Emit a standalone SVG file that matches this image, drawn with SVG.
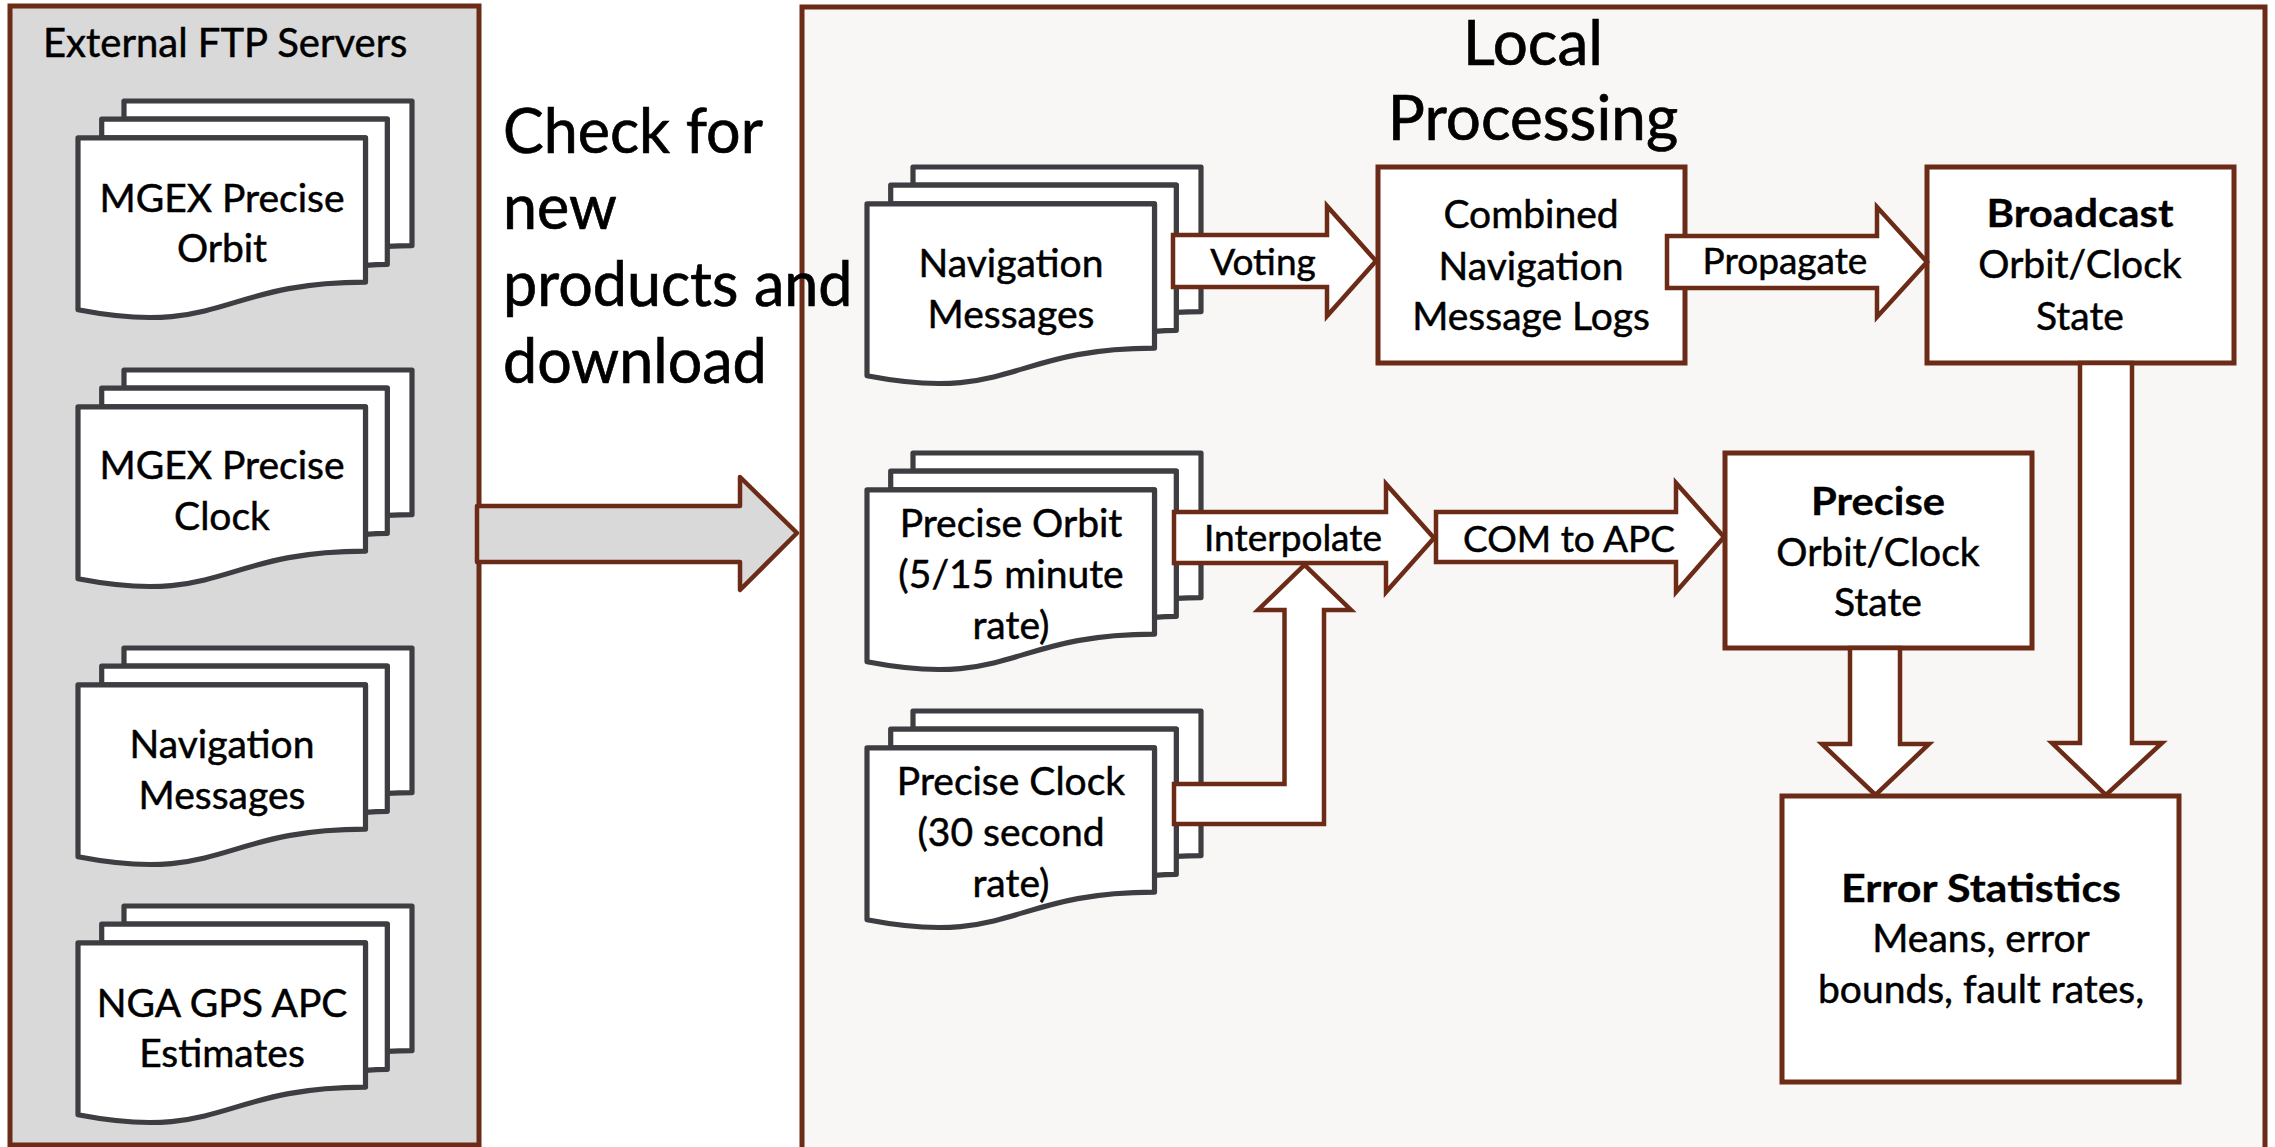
<svg xmlns="http://www.w3.org/2000/svg" xmlns:xlink="http://www.w3.org/1999/xlink" width="2275" height="1147" viewBox="0 0 2275 1147">
<style>
text{font-family:Lato,"Liberation Sans",sans-serif;fill:#000;stroke:#000;stroke-width:0.5px}
.lbl{font-size:39px;text-anchor:middle}
.alb{font-size:37px;text-anchor:middle}
.big{font-size:61px;stroke-width:0.7px}
.b{font-weight:bold;stroke-width:0.3px}
.box{fill:#fff;stroke:#6b2b17;stroke-width:5}
.arr{fill:#fff;stroke:#6b2b17;stroke-width:4.5;stroke-linejoin:miter}
</style>
<defs>
<g id="mdoc" fill="#fff" stroke="#3e3e42" stroke-width="5.2" stroke-linejoin="round">
<path d="M46,18.2 L46,0 L334,0 L334,144.6 C321.6,144.6 309.3,145.3 309.3,145.3 L309.3,18.2 Z"/>
<path d="M23.7,36.9 L23.7,18.2 L309.3,18.2 L309.3,163.3 C298.4,163.3 287.5,164.3 287.5,164.3 L287.5,36.9 Z"/>
<path d="M0,208.8 C143.8,236.5 143.8,181.1 287.5,181.1 L287.5,36.9 L0,36.9 Z"/>
</g>
</defs>
<rect width="2275" height="1147" fill="#fff"/>
<g id="external-panel">
<rect x="10" y="6" width="469" height="1139" fill="#d9d9d9" stroke="#6b2b17" stroke-width="5"/>
<text x="43" y="57" style="font-size:40px">External FTP Servers</text>
</g>
<g id="local-panel">
<rect x="802" y="7" width="1463" height="1150" fill="#f8f7f5" stroke="#6b2b17" stroke-width="5"/>
<text class="big" x="1533" y="65" text-anchor="middle" style="font-size:62px">Local</text>
<text class="big" x="1533" y="140" text-anchor="middle" style="font-size:62px">Processing</text>
</g>
<g id="check-label">
<text class="big" x="503" y="153">Check for</text>
<text class="big" x="503" y="229">new</text>
<text class="big" x="503" y="306">products and</text>
<text class="big" x="503" y="383">download</text>
</g>
<g id="doc-mgex-orbit">
<use xlink:href="#mdoc" x="78" y="101"/>
<text class="lbl" x="222" y="212">MGEX Precise</text>
<text class="lbl" x="222" y="262">Orbit</text>
</g>
<g id="doc-mgex-clock">
<use xlink:href="#mdoc" x="78" y="370"/>
<text class="lbl" x="222" y="479">MGEX Precise</text>
<text class="lbl" x="222" y="530">Clock</text>
</g>
<g id="doc-ext-nav">
<use xlink:href="#mdoc" x="78" y="648"/>
<text class="lbl" x="222" y="758">Navigation</text>
<text class="lbl" x="222" y="809">Messages</text>
</g>
<g id="doc-nga">
<use xlink:href="#mdoc" x="78" y="906"/>
<text class="lbl" x="222" y="1017">NGA GPS APC</text>
<text class="lbl" x="222" y="1067">Estimates</text>
</g>
<g id="doc-nav">
<use xlink:href="#mdoc" x="867" y="167"/>
<text class="lbl" x="1011" y="277">Navigation</text>
<text class="lbl" x="1011" y="328">Messages</text>
</g>
<g id="doc-precise-orbit">
<use xlink:href="#mdoc" x="867" y="453"/>
<text class="lbl" x="1011" y="537">Precise Orbit</text>
<text class="lbl" x="1011" y="588">(5/15 minute</text>
<text class="lbl" x="1011" y="639">rate)</text>
</g>
<g id="doc-precise-clock">
<use xlink:href="#mdoc" x="867" y="711"/>
<text class="lbl" x="1011" y="795">Precise Clock</text>
<text class="lbl" x="1011" y="846">(30 second</text>
<text class="lbl" x="1011" y="897">rate)</text>
</g>
<g id="box-combined">
<rect class="box" x="1378" y="167" width="307" height="196"/>
<text class="lbl" x="1531" y="228">Combined</text>
<text class="lbl" x="1531" y="280">Navigation</text>
<text class="lbl" x="1531" y="330">Message Logs</text>
</g>
<g id="box-broadcast">
<rect class="box" x="1927" y="167" width="307" height="196"/>
<text class="lbl b" x="2080" y="227" textLength="187" lengthAdjust="spacingAndGlyphs">Broadcast</text>
<text class="lbl" x="2080" y="278">Orbit/Clock</text>
<text class="lbl" x="2080" y="330">State</text>
</g>
<g id="box-precise">
<rect class="box" x="1725" y="453" width="307" height="195"/>
<text class="lbl b" x="1878" y="515" textLength="134" lengthAdjust="spacingAndGlyphs">Precise</text>
<text class="lbl" x="1878" y="566">Orbit/Clock</text>
<text class="lbl" x="1878" y="616">State</text>
</g>
<g id="box-error">
<rect class="box" x="1782" y="796" width="397" height="286"/>
<text class="lbl b" x="1981" y="902" textLength="280" lengthAdjust="spacingAndGlyphs">Error Statistics</text>
<text class="lbl" x="1981" y="952">Means, error</text>
<text class="lbl" x="1981" y="1003">bounds, fault rates,</text>
</g>
<g id="connectors">
<path d="M477,506 L740,506 L740,477 L797,533 L740,590 L740,562 L477,562 Z" fill="#d9d9d9" stroke="#6b2b17" stroke-width="4.5" stroke-linejoin="round"/>
<path class="arr" d="M1173,235 L1327,235 L1327,206 L1376,261 L1327,316 L1327,287 L1173,287 Z"/>
<text class="alb" x="1263" y="275">Voting</text>
<path class="arr" d="M1667,236 L1877,236 L1877,207 L1927,262 L1877,317 L1877,288 L1667,288 Z"/>
<text class="alb" x="1785" y="274">Propagate</text>
<path class="arr" d="M1174,784 L1284.5,784 L1284.5,610 L1258,610 L1304.5,565 L1351,610 L1324,610 L1324,824 L1174,824 Z"/>
<path class="arr" d="M1174,512 L1386,512 L1386,484 L1434,538 L1386,592 L1386,563 L1174,563 Z"/>
<text class="alb" x="1293" y="551">Interpolate</text>
<path class="arr" d="M1436,512 L1676,512 L1676,483 L1724,537 L1676,592 L1676,562 L1436,562 Z"/>
<text class="alb" x="1569" y="552">COM to APC</text>
<path class="arr" d="M1850,648 L1900,648 L1900,744 L1929,744 L1875.5,795 L1822,744 L1850,744 Z"/>
<path class="arr" d="M2080,363 L2132,363 L2132,743 L2162,743 L2106,795 L2052,743 L2080,743 Z"/>
</g>
</svg>
